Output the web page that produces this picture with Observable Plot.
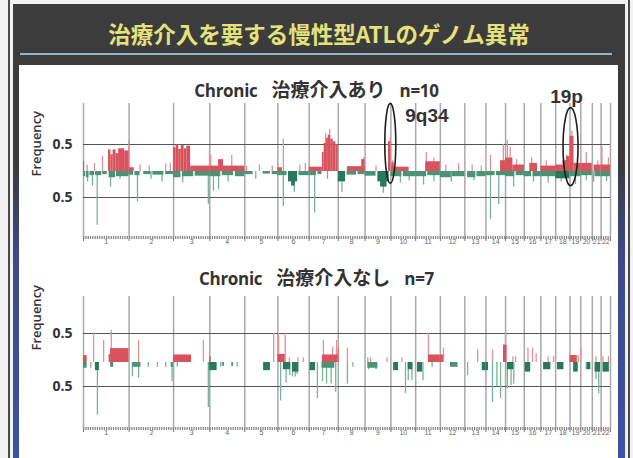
<!DOCTYPE html>
<html><head><meta charset="utf-8">
<script src="https://cdn.jsdelivr.net/npm/d3@7"></script>
<script src="https://cdn.jsdelivr.net/npm/@observablehq/plot@0.6"></script>
<style>
html,body{margin:0;padding:0}
body{width:633px;height:458px;position:relative;overflow:hidden;background:#f2f2f2;font-family:"Open Sans","Noto Sans CJK JP",sans-serif}
.abs{position:absolute}
#lineL{left:8px;top:0;width:1.5px;height:458px;background:#4a4a4a}
#lineR{left:628px;top:0;width:1.5px;height:458px;background:#4a4a4a}
#frame{left:13px;top:4px;width:612px;height:454px;background:linear-gradient(to bottom,#3b3b3b 0%,#3b3b3b 35%,#3d4a86 55%,#3c52a6 100%)}
#bar{left:13px;top:4px;width:612px;height:61px;background:#3c3c3c}
#title{left:13px;top:18px;width:612px;text-align:center;color:#e4e27c;font-family:"Noto Sans CJK JP";font-weight:bold;font-size:22.5px;line-height:30px;white-space:nowrap}
#uline{left:20px;top:53px;width:592px;height:2px;background:#9cb2c2}
#content{left:19px;top:65px;width:599px;height:393px;background:#fff}
.ptitle{left:0;width:633px;text-align:center;color:#333;font-weight:bold;line-height:24px;white-space:nowrap}
.lat{font-family:"Open Sans";font-size:17px;letter-spacing:-0.3px}
.jp{font-family:"Noto Sans CJK JP";font-size:19px;margin:0 14px}
.plot{position:absolute;left:0}
</style></head>
<body>
<div id="lineL" class="abs"></div>
<div id="lineR" class="abs"></div>
<div id="frame" class="abs"></div>
<div id="bar" class="abs"></div>
<div id="title" class="abs">治療介入を要する慢性型ATLのゲノム異常</div>
<div id="uline" class="abs"></div>
<div id="content" class="abs"></div>
<div class="abs ptitle" style="top:77px"><span class="lat">Chronic</span><span class="jp">治療介入あり</span><span class="lat">n=10</span></div>
<div class="abs ptitle" style="top:265px"><span class="lat">Chronic</span><span class="jp">治療介入なし</span><span class="lat">n=7</span></div>
<div id="p1" class="plot" style="top:78px"></div>
<div id="p2" class="plot" style="top:288px"></div>
<script>
// Chromosome lengths (Mb) and names
const chrLen = [249.3,243.2,198.0,191.2,180.9,171.1,159.1,146.4,141.2,135.5,135.0,133.9,115.2,107.3,102.5,90.4,81.2,78.1,59.1,63.0,48.1,51.3];
const chrNames = ["1","2","3","4","5","6","7","8","9","10","11","12","13","14","15","16","17","18","19","20","21","22"];
const yTicks = [-0.5, 0.5];

// Panel 1: 治療介入あり n=10  — [chr, startMb, endMb, freq]
const gains1 = [
 [1,0,6,0.18],[1,137,150,0.40],[1,150,162,0.31],[1,162,178,0.40],[1,178,192,0.33],[1,192,225,0.42],[1,225,249,0.38],
 [2,0,28,0.07],
 [3,0,14,0.44],[3,14,28,0.49],[3,28,42,0.41],[3,42,58,0.48],[3,58,72,0.42],[3,72,93,0.47],[3,93,198,0.1],
 [4,0,191,0.1],[4,48,75,0.22],
 [6,0,25,0.07],
 [7,0,72,0.08],[7,72,82,0.35],[7,82,95,0.52],[7,95,105,0.62],[7,105,118,0.67],[7,118,132,0.6],[7,132,146,0.55],[7,146,159,0.5],
 [8,50,146,0.09],[8,128,146,0.22],
 [9,128,141,0.55],
 [10,5,100,0.08],[10,5,18,0.16],
 [11,55,135,0.18],
 [14,80,107,0.2],[15,0,40,0.25],[15,40,103,0.12],
 [16,30,72,0.15],[17,0,81,0.1],
 [18,0,78,0.12],[18,40,78,0.2],[18,60,78,0.28],
 [19,0,22,0.65],[19,22,59,0.15],
 [20,0,63,0.15],[21,10,48,0.12],[22,0,51,0.12]
];
const losses1 = [
 [1,0,12,-0.1],[1,16,30,-0.12],[1,35,60,-0.08],[1,66,100,-0.08],[1,105,130,-0.06],[1,140,175,-0.12],[1,180,249,-0.1],
 [2,0,25,-0.07],[2,32,60,-0.08],[2,80,120,-0.06],[2,130,190,-0.07],[2,200,243,-0.06],
 [3,0,40,-0.12],[3,48,110,-0.1],[3,118,198,-0.09],
 [4,0,60,-0.1],[4,68,130,-0.08],[4,140,191,-0.1],
 [5,0,45,-0.06],[5,100,140,-0.05],[5,150,181,-0.06],
 [6,0,50,-0.08],[6,58,108,-0.2],[6,75,95,-0.28],[6,115,171,-0.08],
 [7,0,40,-0.08],[7,48,70,-0.06],
 [8,0,40,-0.2],[8,48,100,-0.07],[8,108,146,-0.06],
 [9,0,60,-0.09],[9,70,132,-0.2],[9,85,120,-0.3],
 [10,0,60,-0.1],[10,68,136,-0.1],
 [11,0,60,-0.1],[11,66,135,-0.08],
 [12,0,60,-0.12],[12,66,134,-0.1],
 [13,15,60,-0.12],[13,66,115,-0.1],
 [14,0,50,-0.08],[14,58,107,-0.08],
 [15,0,50,-0.1],[15,58,103,-0.08],
 [16,0,40,-0.1],[16,48,90,-0.1],
 [17,0,81,-0.1],[18,0,78,-0.14],[19,0,59,-0.1],[20,0,63,-0.08],[21,15,48,-0.1],[22,0,51,-0.1]
];
// thin single-probe spikes [chr, Mb, freq]
const up1 = [
 [1,104,0.28],[1,248,0.57],[1,60,0.15],[1,20,0.12],[2,60,0.12],[2,110,0.1],[2,200,0.14],[2,225,0.15],[3,196,0.38],
 [4,5,0.3],[4,120,0.3],[5,10,0.1],[5,80,0.12],[5,150,0.1],[6,30,0.6],[6,120,0.12],[6,150,0.15],[7,112,0.78],[7,90,0.7],
 [8,140,0.26],[9,137,0.62],[9,60,0.1],[10,10,0.2],[11,58,0.35],[11,100,0.25],[12,30,0.12],[12,100,0.15],[13,40,0.12],
 [13,90,0.1],[14,25,0.3],[14,95,0.5],[15,10,0.58],[15,25,0.45],[15,60,0.22],[16,40,0.25],[17,30,0.2],[18,60,0.3],
 [19,10,0.75],[20,30,0.35],[21,30,0.2],[22,5,0.45],[22,40,0.25]
];
const down1 = [
 [1,75,-1.0],[1,22,-0.2],[1,49,-0.28],[1,148,-0.3],[1,200,-0.15],[2,46,-0.58],[2,120,-0.15],[2,180,-0.2],[3,50,-0.22],
 [3,190,-0.62],[4,20,-0.38],[4,48,-0.35],[4,100,-0.2],[5,60,-0.15],[6,30,-0.66],[6,90,-0.4],[7,30,-0.78],[7,100,-0.15],
 [8,20,-0.4],[9,100,-0.42],[10,52,-0.22],[10,100,-0.18],[11,43,-0.26],[11,100,-0.2],[12,60,-0.2],[13,50,-0.18],
 [14,25,-0.9],[14,70,-0.63],[15,44,-0.3],[16,50,-0.2],[17,40,-0.22],[18,30,-0.2],[19,30,-0.25],[20,30,-0.18],
 [21,7,-0.2],[22,30,-0.2]
];

// Panel 2: 治療介入なし n=7
const gains2 = [
 [1,0,20,0.12],[1,140,148,0.14],[1,148,249,0.24],[3,0,98,0.13],[4,0,8,0.1],[6,0,40,0.14],[7,72,159,0.13],
 [8,0,5,0.25],[11,70,135,0.13],[12,0,17,0.13],[14,96,107,0.3],[15,0,8,0.3],[19,0,40,0.12]
];
const losses2 = [
 [1,0,20,-0.12],[1,65,87,-0.17],[1,148,165,-0.1],[2,20,65,-0.1],[2,230,243,-0.1],[3,195,198,-0.17],[4,0,40,-0.17],
 [4,70,80,-0.08],[4,120,130,-0.08],[5,103,140,-0.17],[6,30,70,-0.15],[6,80,115,-0.2],[7,5,35,-0.17],[7,70,140,-0.12],
 [9,15,70,-0.12],[10,15,42,-0.17],[10,95,120,-0.15],[11,10,38,-0.2],[12,55,95,-0.1],[13,95,115,-0.17],[14,0,14,-0.17],
 [15,10,45,-0.15],[16,5,35,-0.2],[17,15,55,-0.15],[18,10,45,-0.15],[19,20,45,-0.2],[20,35,55,-0.15],[21,15,45,-0.2],
 [22,10,45,-0.2]
];
const up2 = [
 [1,55,0.5],[1,110,0.38],[1,152,0.55],[2,52,0.38],[3,163,0.38],[5,158,0.5],[6,4,0.5],[6,40,0.5],[6,63,0.08],
 [6,110,0.08],[6,140,0.08],[7,78,0.38],[7,128,0.26],[7,150,0.38],[8,50,0.25],[9,15,0.08],[9,30,0.08],[9,120,0.08],
 [10,60,0.08],[11,70,0.5],[12,17,0.25],[13,70,0.22],[14,36,0.22],[15,0,0.5],[15,40,0.1],[15,55,0.1],[16,20,0.25],
 [16,45,0.25],[16,65,0.15],[17,40,0.1],[17,70,0.1],[19,45,0.12],[20,0,0.25],[21,20,0.1],[22,10,0.1],[22,40,0.1]
];
const down2 = [
 [1,76,-1.1],[1,40,-0.12],[2,18,-0.3],[2,52,-0.33],[2,105,-0.1],[2,155,-0.1],[2,200,-0.1],[2,235,-0.4],[3,190,-0.94],
 [3,20,-0.1],[4,10,-0.17],[4,60,-0.1],[4,150,-0.1],[6,15,-0.8],[6,45,-0.43],[6,65,-0.27],[6,80,-0.3],[6,95,-0.3],
 [6,105,-0.25],[7,45,-0.75],[7,73,-0.4],[7,95,-0.45],[7,120,-0.45],[7,145,-0.62],[8,50,-0.45],[8,80,-0.1],[9,20,-0.15],
 [9,60,-0.15],[10,80,-0.65],[10,95,-0.38],[10,115,-0.38],[11,40,-0.38],[11,90,-0.1],[12,60,-0.1],[12,90,-0.1],
 [13,15,-0.27],[14,36,-0.83],[14,60,-0.5],[14,80,-0.75],[15,10,-0.55],[15,30,-0.48],[15,45,-0.45],[16,15,-0.2],
 [17,20,-0.15],[18,20,-0.15],[19,30,-0.2],[20,30,-0.15],[21,20,-0.36],[21,35,-0.65],[22,20,-0.2]
];

// Annotations on panel 1
const annotLabels = ["9q34", "19p"];
const annotChr = [9, 19];
const annotMb = [138, 3];
const annotFreq = [0.52, 0.46];

// ---- derived genome coordinates ----
const offsets = [0, ...d3.cumsum(chrLen)];
const total = offsets[offsets.length - 1];
const mids = chrLen.map((l, i) => offsets[i] + l / 2);
const pos = (c, mb) => offsets[c - 1] + mb;

function ellipse(rx, ry) {
  const k = 0.5523;
  return {draw(ctx) {
    ctx.moveTo(rx, 0);
    ctx.bezierCurveTo(rx, k*ry, k*rx, ry, 0, ry);
    ctx.bezierCurveTo(-k*rx, ry, -rx, k*ry, -rx, 0);
    ctx.bezierCurveTo(-rx, -k*ry, -k*rx, -ry, 0, -ry);
    ctx.bezierCurveTo(k*rx, -ry, rx, -k*ry, rx, 0);
    ctx.closePath();
  }};
}

function panel(cfg) {
  const {gains, losses, up, down, yDomain, yRange, height, marginTop, marginBottom, freqDy, extra = []} = cfg;
  return Plot.plot({
    width: 633, height, marginLeft: 83, marginRight: 23, marginTop, marginBottom,
    style: {background: "transparent", overflow: "visible", fontFamily: "Liberation Sans, Arial, sans-serif"},
    x: {domain: [0, total], label: null, axis: null},
    y: {type: "linear", domain: yDomain, range: yRange, label: null, axis: null},
    marks: [
      Plot.ruleX(offsets, {stroke: "#a9a9a9", strokeWidth: 1.5}),
      Plot.ruleY(yTicks, {stroke: "#555", strokeWidth: 1}),
      Plot.ruleX(up, {x: d => pos(d[0], d[1]), y1: 0, y2: d => d[2], stroke: "#e39298", strokeWidth: 1.3}),
      Plot.ruleX(down, {x: d => pos(d[0], d[1]), y1: 0, y2: d => d[2], stroke: "#78b39a", strokeWidth: 1.3}),
      Plot.rect(gains, {x1: d => pos(d[0], d[1]), x2: d => pos(d[0], d[2]), y1: 0, y2: d => d[3], fill: "#d9535f"}),
      Plot.rect(losses, {x1: d => pos(d[0], d[1]), x2: d => pos(d[0], d[2]), y1: 0, y2: d => d[3], fill: d => d[3] > -0.13 ? "#4a9475" : "#2a785b"}),
      Plot.ruleY([yDomain[0]], {stroke: "#8a8a8a", strokeWidth: 3, strokeDasharray: "1.3,1"}),
      Plot.axisX(offsets, {tickSize: 4, tickFormat: () => "", stroke: "#777"}),
      Plot.axisX(mids, {tickSize: 0, tickPadding: 2, tickFormat: d => chrNames[mids.indexOf(d)], fontSize: 7, fill: "#666", label: null}),
      Plot.text(yTicks, {y: d => d, frameAnchor: "left", dx: -11, textAnchor: "end", text: d => d3.format(".1f")(Math.abs(d)), fontSize: 14, fontWeight: "bold", fill: "#333", fontFamily: "Open Sans"}),
      Plot.text(["Frequency"], {frameAnchor: "left", rotate: -90, dx: -47, dy: freqDy, fontSize: 13, fontWeight: 600, fill: "#333", fontFamily: "Open Sans"}),
      ...extra
    ]
  });
}

const annX = i => pos(annotChr[i], annotMb[i]);
const extra1 = [
  Plot.dot([0], {x: annX, y: i => annotFreq[i], symbol: ellipse(5.5, 40), stroke: "#1e1e1e", strokeWidth: 1.6, fill: "none"}),
  Plot.dot([1], {x: annX, y: i => annotFreq[i], symbol: ellipse(7.5, 39), stroke: "#1e1e1e", strokeWidth: 1.6, fill: "none"}),
  Plot.text([0], {x: annX, y: i => annotFreq[i], text: i => annotLabels[i], dx: 15, dy: -28, textAnchor: "start", fontSize: 19, fontWeight: "bold", fill: "#333", fontFamily: "Liberation Sans"}),
  Plot.text([1], {x: annX, y: i => annotFreq[i], text: i => annotLabels[i], dx: -4, dy: -50, textAnchor: "middle", fontSize: 19, fontWeight: "bold", fill: "#333", fontFamily: "Liberation Sans"})
];

document.getElementById("p1").append(panel({
  gains: gains1, losses: losses1, up: up1, down: down1,
  yDomain: [-1.22, -0.5, 0, 0.5, 1.26], yRange: [159, 119, 93, 66, 25],
  height: 175, marginTop: 25, marginBottom: 16, freqDy: 6, extra: extra1
}));
document.getElementById("p2").append(panel({
  gains: gains2, losses: losses2, up: up2, down: down2,
  yDomain: [-1.375, -0.5, 0, 0.5, 1.14], yRange: [140, 98, 74, 45, 8],
  height: 160, marginTop: 8, marginBottom: 20, freqDy: -12
}));
</script>
</body></html>
